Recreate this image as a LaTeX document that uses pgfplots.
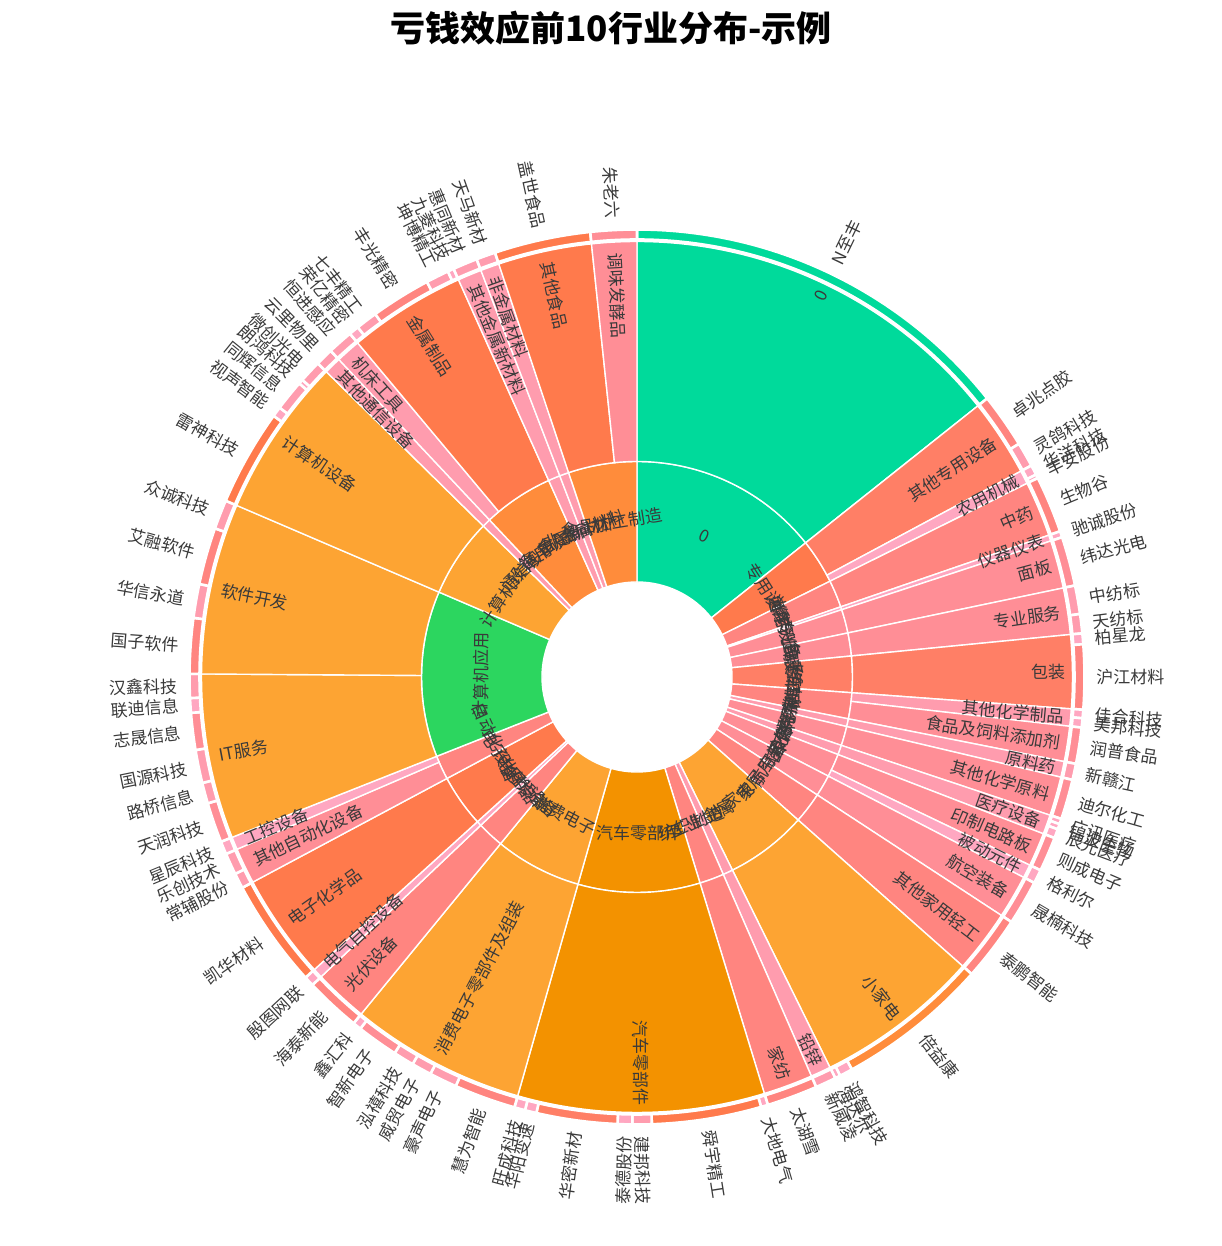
\documentclass[border=0pt]{standalone}
\usepackage{fontspec}
\setmainfont{Noto Sans CJK SC}
\usepackage{pgfplots}
\pgfplotsset{compat=1.18}
\usepackage{pgfplotstable}

% colour scale by sector size (degrees)
\definecolor{sc1}{HTML}{FFA7C1}
\definecolor{sc2}{HTML}{FF9CAE}
\definecolor{sc3}{HTML}{FF8E96}
\definecolor{sc4}{HTML}{FF8580}
\definecolor{sc5}{HTML}{FF7F66}
\definecolor{sc6}{HTML}{FF7A4C}
\definecolor{sc7}{HTML}{FF8C3B}
\definecolor{sc8}{HTML}{FDA433}
\definecolor{sc9}{HTML}{F39200}
\definecolor{sc10}{HTML}{2CD65F}
\definecolor{sc11}{HTML}{00DA9B}
\definecolor{txt}{HTML}{3A3A3A}

\newcommand\lblfont{\fontsize{8.5bp}{9bp}\selectfont}
\pgfdeclareplotmark{nothing}{}

% ring 1: industry (start/end angle, clockwise from top); cx cy = centre
\pgfplotstableread{
cx cy a b label
637 569 0 51.5 0
637 569 51.5 63.6 专用设备
637 569 63.6 71.0 中药
637 569 71.0 71.8 通用设备
637 569 71.8 78.2 光学光电子
637 569 78.2 84.4 专业服务
637 569 84.4 94.2 包装印刷
637 569 94.2 101.2 化学制品
637 569 101.2 103.3 化学制药
637 569 103.3 108.5 化学原料
637 569 108.5 111.1 医疗器械
637 569 111.1 117.4 元件
637 569 117.4 123.2 航空装备
637 569 123.2 131.6 家居用品
637 569 131.6 153.7 小家电
637 569 153.7 156.4 工业金属
637 569 156.4 163.0 纺织制造
637 569 163.0 195.9 汽车零部件
637 569 195.9 219.3 消费电子
637 569 219.3 226.5 光伏设备
637 569 226.5 227.8 电网设备
637 569 227.8 241.9 电子化学品
637 569 241.9 248.4 自动化设备
637 569 248.4 293.2 计算机应用
637 569 293.2 314.5 计算机设备
637 569 314.5 316.8 通信设备
637 569 316.8 335.8 通用设备
637 569 335.8 339.0 金属新材料
637 569 339.0 341.5 非金属材料
637 569 341.5 360.0 食品加工制造
}\ringone

% ring 2: sub-industry
\pgfplotstableread{
cx cy a b label
637 569 0 51.5 0
637 569 51.5 61.8 其他专用设备
637 569 61.8 63.6 农用机械
637 569 63.6 71.0 中药
637 569 71.0 71.8 仪器仪表
637 569 71.8 78.2 面板
637 569 78.2 84.4 专业服务
637 569 84.4 94.2 包装
637 569 94.2 96.5 其他化学制品
637 569 96.5 101.2 食品及饲料添加剂
637 569 101.2 103.3 原料药
637 569 103.3 108.5 其他化学原料
637 569 108.5 111.1 医疗设备
637 569 111.1 115.6 印制电路板
637 569 115.6 117.4 被动元件
637 569 117.4 123.2 航空装备
637 569 123.2 131.6 其他家用轻工
637 569 131.6 153.7 小家电
637 569 153.7 156.4 铅锌
637 569 156.4 163.0 家纺
637 569 163.0 195.9 汽车零部件
637 569 195.9 219.3 消费电子零部件及组装
637 569 219.3 226.5 光伏设备
637 569 226.5 227.8 电气自控设备
637 569 227.8 241.9 电子化学品
637 569 241.9 246.7 其他自动化设备
637 569 246.7 248.4 工控设备
637 569 248.4 270.4 IT服务
637 569 270.4 293.2 软件开发
637 569 293.2 314.5 计算机设备
637 569 314.5 316.8 其他通信设备
637 569 316.8 320.1 机床工具
637 569 320.1 335.8 金属制品
637 569 335.8 339.0 其他金属新材料
637 569 339.0 341.5 非金属材料
637 569 341.5 354.0 其他食品
637 569 354.0 360.0 调味发酵品
}\ringtwo

% ring 3: stocks
\pgfplotstableread{
cx cy a b label
637 569 0 51.5 N至丰
637 569 51.5 58.6 卓兆点胶
637 569 58.6 61.8 灵鸽科技
637 569 61.8 63.1 华洋科技
637 569 63.1 63.6 丰安股份
637 569 63.6 71.0 生物谷
637 569 71.0 71.8 驰诚股份
637 569 71.8 78.2 纬达光电
637 569 78.2 81.9 中纺标
637 569 81.9 84.4 天纺标
637 569 84.4 85.8 柏星龙
637 569 85.8 94.2 沪江材料
637 569 94.2 95.3 佳合科技
637 569 95.3 96.5 美邦科技
637 569 96.5 101.2 润普食品
637 569 101.2 103.3 新赣江
637 569 103.3 108.5 迪尔化工
637 569 108.5 109.2 广讯医疗
637 569 109.2 109.9 锦波生物
637 569 109.9 111.1 辰光医疗
637 569 111.1 115.6 则成电子
637 569 115.6 117.4 格利尔
637 569 117.4 123.2 晟楠科技
637 569 123.2 131.6 泰鹏智能
637 569 131.6 151.3 倍益康
637 569 151.3 153.0 鸿智科技
637 569 153.0 153.7 海达尔
637 569 153.7 156.4 新威凌
637 569 156.4 163.0 太湖雪
637 569 163.0 163.9 大地电气
637 569 163.9 178.1 舜宇精工
637 569 178.1 180.6 建邦科技
637 569 180.6 182.5 泰德股份
637 569 182.5 193.0 华密新材
637 569 193.0 194.5 华阳变速
637 569 194.5 195.9 旺成科技
637 569 195.9 203.9 慧为智能
637 569 203.9 207.5 豪声电子
637 569 207.5 210.1 威贸电子
637 569 210.1 212.8 泓禧科技
637 569 212.8 218.2 智新电子
637 569 218.2 219.3 鑫汇科
637 569 219.3 226.5 海泰新能
637 569 226.5 227.8 殷图网联
637 569 227.8 241.9 凯华材料
637 569 241.9 243.9 常辅股份
637 569 243.9 246.7 乐创技术
637 569 246.7 248.4 星辰科技
637 569 248.4 253.6 天润科技
637 569 253.6 256.3 路桥信息
637 569 256.3 260.6 国源科技
637 569 260.6 265.4 志晟信息
637 569 265.4 267.3 联迪信息
637 569 267.3 270.4 汉鑫科技
637 569 270.4 277.6 国子软件
637 569 277.6 282.0 华信永道
637 569 282.0 289.4 艾融软件
637 569 289.4 293.2 众诚科技
637 569 293.2 305.7 雷神科技
637 569 305.7 307.0 视声智能
637 569 307.0 311.0 同辉信息
637 569 311.0 311.6 朗鸿科技
637 569 311.6 314.5 微创光电
637 569 314.5 316.8 云里物里
637 569 316.8 320.1 恒进感应
637 569 320.1 321.4 荣亿精密
637 569 321.4 324.2 七丰精工
637 569 324.2 332.0 丰光精密
637 569 332.0 335.0 坤博精工
637 569 335.0 335.8 九菱科技
637 569 335.8 339.0 惠同新材
637 569 339.0 341.5 天马新材
637 569 341.5 354.0 盖世食品
637 569 354.0 360.0 朱老六
}\ringthree

% one sector: start, end, inner radius, outer radius, border width
\newcommand\sunwedge[5]{%
  \pgfmathsetmacro\wsp{#2-#1}%
  \pgfmathtruncatemacro\wci{\wsp<2 ? 1 : (\wsp<4.5 ? 2 : (\wsp<6.5 ? 3 : (\wsp<9 ? 4 : (\wsp<12 ? 5 : (\wsp<17 ? 6 : (\wsp<21 ? 7 : (\wsp<28 ? 8 : (\wsp<40 ? 9 : (\wsp<48 ? 10 : 11)))))))))}%
  \pgfmathsetmacro\wta{90-#1}\pgfmathsetmacro\wtb{90-#2}%
  \fill[fill=sc\wci, draw=white, line width=#5]
    (\wta:#3) arc[start angle=\wta, end angle=\wtb, radius=#3]
    -- (\wtb:#4) arc[start angle=\wtb, end angle=\wta, radius=#4] -- cycle;
}
% tangential label, centred in the sector
\newcommand\sunlabelinner[4]{%
  \pgfmathsetmacro\lm{(#1+#2)/2}\pgfmathsetmacro\lphi{90-\lm}%
  \ifdim\lm pt<90pt \pgfmathsetmacro\lrot{\lphi-90}%
  \else\ifdim\lm pt>270pt \pgfmathsetmacro\lrot{\lphi-90}%
  \else \pgfmathsetmacro\lrot{\lphi+90}\fi\fi
  \node[rotate=\lrot, anchor=center, inner sep=0pt, font=\lblfont, text=txt] at (\lphi:#4) {#3};
}
% radial label ending at the outer edge
\newcommand\sunlabelmid[4]{%
  \pgfmathsetmacro\lm{(#1+#2)/2}\pgfmathsetmacro\lphi{90-\lm}%
  \ifdim\lm pt<180pt
    \node[rotate=\lphi, anchor=east, inner sep=0pt, font=\lblfont, text=txt] at (\lphi:#4) {#3};
  \else
    \pgfmathsetmacro\lrot{\lphi+180}%
    \node[rotate=\lrot, anchor=west, inner sep=0pt, font=\lblfont, text=txt] at (\lphi:#4-2bp) {#3};
  \fi
}
% radial label starting outside the ring
\newcommand\sunlabelouter[4]{%
  \pgfmathsetmacro\lm{(#1+#2)/2}\pgfmathsetmacro\lphi{90-\lm}%
  \ifdim\lm pt<180pt
    \node[rotate=\lphi, anchor=west, inner sep=0pt, font=\lblfont, text=txt] at (\lphi:#4) {#3};
  \else
    \pgfmathsetmacro\lrot{\lphi+180}%
    \node[rotate=\lrot, anchor=east, inner sep=0pt, font=\lblfont, text=txt] at (\lphi:#4) {#3};
  \fi
}

\pgfplotsset{
  sun base/.style={
    only marks, scatter, mark=nothing,
    point meta=explicit symbolic,
    visualization depends on={\thisrow{a}\as\segA},
    visualization depends on={\thisrow{b}\as\segB},
    scatter/@post marker code/.code={},
  },
  sun wedges/.style n args={3}{
    sun base,
    scatter/@pre marker code/.code={\sunwedge{\segA}{\segB}{#1}{#2}{#3}},
  },
  sun labels/.style n args={2}{
    sun base,
    scatter/@pre marker code/.code={\csname sunlabel#1\endcsname{\segA}{\segB}{\pgfplotspointmeta}{#2}},
  },
}

\begin{document}
\begin{tikzpicture}
\begin{axis}[
  scale only axis, width=611bp, height=623bp,
  xmin=0, xmax=1222, ymin=0, ymax=1246,
  hide axis, clip=false,
  every axis title shift=0pt,
  title={亏钱效应前10行业分布-示例},
  title style={at={(axis description cs:0.5,0.9775)}, anchor=center, inner sep=0pt,
    font=\fontsize{17.5bp}{19bp}\selectfont\bfseries, text=black},
]
\addplot[sun wedges={47.5bp}{107.75bp}{0.7bp}] table[x=cx, y=cy, meta=label] {\ringone};
\addplot[sun wedges={107.75bp}{217.75bp}{0.7bp}] table[x=cx, y=cy, meta=label] {\ringtwo};
\addplot[sun wedges={218.75bp}{223.75bp}{1.3bp}] table[x=cx, y=cy, meta=label] {\ringthree};
\addplot[sun labels={inner}{78bp}] table[x=cx, y=cy, meta=label] {\ringone};
\addplot[sun labels={mid}{214.5bp}] table[x=cx, y=cy, meta=label] {\ringtwo};
\addplot[sun labels={outer}{229.5bp}] table[x=cx, y=cy, meta=label] {\ringthree};
\path (rel axis cs:0,0) rectangle (rel axis cs:1,1);
\end{axis}
\end{tikzpicture}
\end{document}
